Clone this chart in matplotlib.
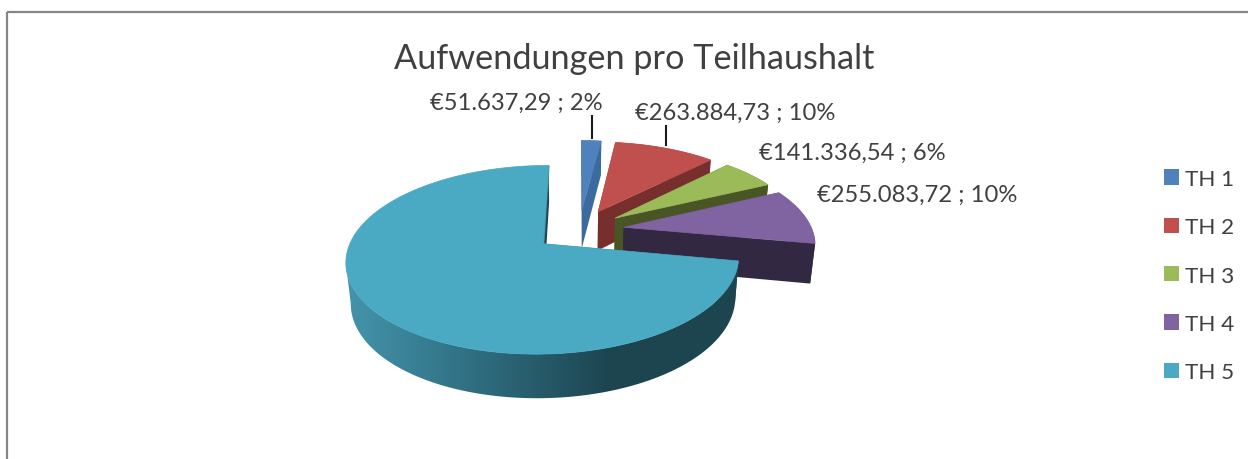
import numpy as np
import matplotlib
matplotlib.use('Agg')
import matplotlib.pyplot as plt
from matplotlib.colors import LinearSegmentedColormap
from matplotlib.patches import Patch, Polygon, Rectangle

# Daten
teilhaushalte = ['TH 1', 'TH 2', 'TH 3', 'TH 4', 'TH 5']
aufwendungen = [51637.29, 263884.73, 141336.54, 255083.72, 1838000.00]
farben = ['#4F81BD', '#C0504D', '#9BBB59', '#8064A2', '#4AA9C3']
seiten = ['#3A6A9E', '#772F2D', '#4A5526', '#332842', '#1D4550']

# Perspektive der 3D-Torte (Pixel)
cx, cy = 579, 231
rx, ry = 188.5, 87
p = 0.166
explode = 0.24


def oben(u, v):
    s = 1 / (1 - p * v)
    return cx + rx * u * s, cy + ry * v * s


def unten(u, v):
    x, y = oben(u, v)
    return cx + (x - cx) * 0.979, y + 39.5 + 4 * v


def euro(w):
    t = f'{w:,.2f}'.replace(',', 'X').replace('.', ',').replace('X', '.')
    return f'€{t}'


plt.rcParams['font.family'] = ['Lato', 'DejaVu Sans']
fig = plt.figure(figsize=(12.48, 4.6), dpi=100)
ax = fig.add_axes([0, 0, 1, 1])
ax.set_xlim(0, 1248)
ax.set_ylim(460, 0)
ax.axis('off')

ax.add_patch(Rectangle((7, 13), 1300, 500, fill=False, ec='#868686', lw=1.6))

werte = np.array(aufwendungen)
grenzen = np.radians(np.concatenate([[0], np.cumsum(werte) / werte.sum() * 360]))
verlauf = LinearSegmentedColormap.from_list('wand', ['#4696AE', '#2F6E80', seiten[4], seiten[4]])

for i in range(len(werte)):
    a0, a1 = grenzen[i], grenzen[i + 1]
    m = (a0 + a1) / 2
    ou, ov = explode * np.sin(m), -explode * np.cos(m)
    t = np.linspace(a0, a1, 300 if i == 4 else 60)
    u = ou + np.sin(t)
    v = ov - np.cos(t)
    top = np.array([oben(a, b) for a, b in zip(u, v)])
    bot = np.array([unten(a, b) for a, b in zip(u, v)])
    spitze_o = oben(ou, ov)
    spitze_u = unten(ou, ov)

    # Aussenwand
    if i == 4:
        # nur der vordere Teil ist sichtbar, bis zum linken Rand
        links = np.argmin(top[:, 0]) + 1
        wand = np.vstack([top[:links], bot[:links][::-1]])
        poly = Polygon(wand, closed=True, fc='none', ec='none')
        ax.add_patch(poly)
        gr = np.linspace(0, 1, 256).reshape(1, -1)
        bild = ax.imshow(gr, extent=(340, 745, 420, 240), cmap=verlauf, aspect='auto', zorder=1 + i * 2)
        bild.set_clip_path(poly)
        ax.set_xlim(0, 1248)
        ax.set_ylim(460, 0)
    else:
        wand = np.vstack([top, bot[::-1]])
        ax.fill(wand[:, 0], wand[:, 1], color=seiten[i], lw=0, zorder=1 + i * 2)

    # Schnittflaechen
    for k in (0, -1):
        ax.fill([spitze_o[0], top[k, 0], bot[k, 0], spitze_u[0]],
                [spitze_o[1], top[k, 1], bot[k, 1], spitze_u[1]],
                color=seiten[i], lw=0, zorder=1 + i * 2)

    # Deckel
    ax.fill(np.r_[spitze_o[0], top[:, 0]], np.r_[spitze_o[1], top[:, 1]],
            color=farben[i], lw=0.5, ec=farben[i], zorder=2 + i * 2)
    if i == 4:
        ax.plot([spitze_o[0], top[-1, 0]], [spitze_o[1], top[-1, 1]], color='#3F8FA6', lw=1.6,
                zorder=1 + i * 2, solid_capstyle='butt')

# Beschriftung
ax.text(634, 59, 'Aufwendungen pro Teilhaushalt', fontsize=24.7, color='#404040', ha='center', va='center')
label_pos = [(516, 103), (735, 113), (852, 153), (917, 195)]
for i, (lx, ly) in enumerate(label_pos):
    ax.text(lx, ly, f'{euro(aufwendungen[i])} ; {aufwendungen[i] / werte.sum():.0%}',
            fontsize=17.1, color='#404040', ha='center', va='center')
ax.plot([592, 592], [117, 139], color='#1a1a1a', lw=1.5, zorder=20)
ax.plot([666, 666], [127, 146], color='#1a1a1a', lw=1.5, zorder=20)

griffe = [Patch(fc=f, ec='none', label=n) for f, n in zip(farben, teilhaushalte)]
ax.legend(handles=griffe, loc='center left', bbox_to_anchor=(1164 / 1248, 1 - 276.6 / 460), frameon=False,
          fontsize=16.2, labelcolor='#404040', handlelength=0.66, handleheight=0.66, handletextpad=0.27,
          labelspacing=1.26, borderpad=0, borderaxespad=0)

plt.savefig('out.png', dpi=100)
